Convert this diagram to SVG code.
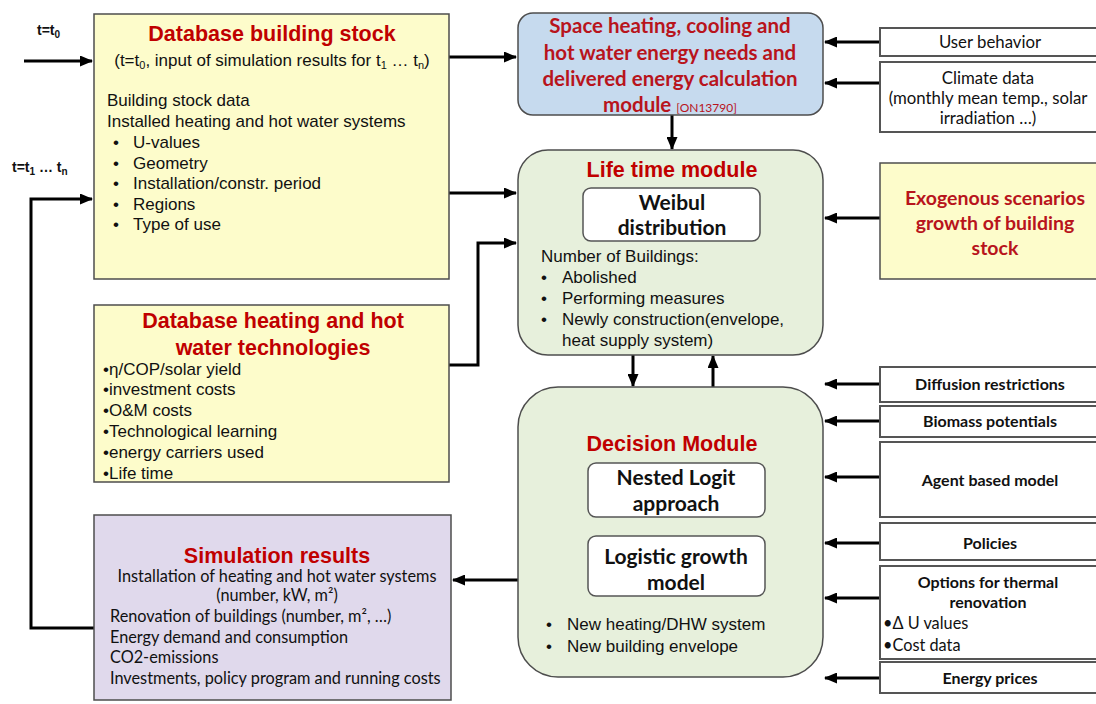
<svg xmlns="http://www.w3.org/2000/svg" width="1096" height="704" viewBox="0 0 1096 704">
<style>
.box{stroke:#4d4d4d;stroke-width:1.5}
.yel{fill:#fdfccb}
.blue{fill:#c6daee}
.green{fill:#e7f0dc}
.purple{fill:#e0d9ec}
.inbox{fill:#ffffff;stroke:#555;stroke-width:1.5}
.rbox{fill:#ffffff;stroke:#555;stroke-width:2}
.title{font-family:Arial,"Liberation Sans",sans-serif;font-weight:bold;fill:#c00000;font-size:21.5px}
.ctitle{font-family:Lato,"Open Sans",sans-serif;font-weight:bold;fill:#b8141c}
.arial{font-family:Arial,"Liberation Sans",sans-serif;fill:#111;font-size:17px}
.cal{font-family:Lato,"Open Sans",sans-serif;fill:#111;font-size:16.3px}
.calr{font-family:Lato,"Open Sans",sans-serif;fill:#111;font-size:16.8px}
.calb{font-family:Lato,"Open Sans",sans-serif;fill:#111;font-size:16px;font-weight:bold}
.inner{font-family:Lato,"Open Sans",sans-serif;fill:#111;font-size:21px;font-weight:bold}
.lbl{font-family:Arial,"Liberation Sans",sans-serif;font-weight:bold;font-size:14px;fill:#111}
.c{text-anchor:middle}
.conn{fill:none;stroke:#000;stroke-width:3}
</style>
<defs>
<marker id="ah" markerUnits="userSpaceOnUse" markerWidth="13" markerHeight="11" refX="12" refY="5.5" orient="auto">
<path d="M0,0 L13,5.5 L0,11 z" fill="#000"/>
</marker>
</defs>
<rect width="1096" height="704" fill="#ffffff"/>

<g id="connectors">
<line class="conn" x1="24" y1="61" x2="92" y2="61" marker-end="url(#ah)"/>
<polyline class="conn" points="94,628 31,628 31,199 92,199" marker-end="url(#ah)"/>
<line class="conn" x1="449" y1="57" x2="516" y2="57" marker-end="url(#ah)"/>
<line class="conn" x1="449" y1="193" x2="516" y2="193" marker-end="url(#ah)"/>
<polyline class="conn" points="449,365 478,365 478,243 516,243" marker-end="url(#ah)"/>
<line class="conn" x1="672" y1="115" x2="672" y2="149" marker-end="url(#ah)"/>
<line class="conn" x1="633" y1="355" x2="633" y2="386" marker-end="url(#ah)"/>
<line class="conn" x1="713" y1="387" x2="713" y2="356" marker-end="url(#ah)"/>
<line class="conn" x1="518" y1="580" x2="453" y2="580" marker-end="url(#ah)"/>
<line class="conn" x1="880" y1="42" x2="825" y2="42" marker-end="url(#ah)"/>
<line class="conn" x1="880" y1="83" x2="825" y2="83" marker-end="url(#ah)"/>
<line class="conn" x1="880" y1="218" x2="825" y2="218" marker-end="url(#ah)"/>
<line class="conn" x1="880" y1="384" x2="825" y2="384" marker-end="url(#ah)"/>
<line class="conn" x1="880" y1="421" x2="825" y2="421" marker-end="url(#ah)"/>
<line class="conn" x1="880" y1="477" x2="825" y2="477" marker-end="url(#ah)"/>
<line class="conn" x1="880" y1="543" x2="825" y2="543" marker-end="url(#ah)"/>
<line class="conn" x1="880" y1="598" x2="825" y2="598" marker-end="url(#ah)"/>
<line class="conn" x1="880" y1="678" x2="825" y2="678" marker-end="url(#ah)"/>
</g>

<g id="time-labels">
<text class="lbl" x="37" y="35">t=t<tspan font-size="10" dy="3">0</tspan></text>
<text class="lbl" x="12" y="172">t=t<tspan font-size="10" dy="3">1</tspan><tspan dy="-3"> … t</tspan><tspan font-size="10" dy="3">n</tspan></text>
</g>

<g id="db-building-stock">
<rect class="box yel" x="94" y="14" width="355" height="265"/>
<text class="title c" x="272" y="41">Database building stock</text>
<text class="arial c" x="272" y="66" font-size="16.8">(t=t<tspan font-size="11" dy="3">0</tspan><tspan dy="-3">, input of simulation results for t</tspan><tspan font-size="11" dy="3">1</tspan><tspan dy="-3"> … t</tspan><tspan font-size="11" dy="3">n</tspan><tspan dy="-3">)</tspan></text>
<text class="arial" x="107" y="106">Building stock data</text>
<text class="arial" x="107" y="127">Installed heating and hot water systems</text>
<text class="arial" x="113" y="148">•</text><text class="arial" x="133" y="148">U-values</text>
<text class="arial" x="113" y="169">•</text><text class="arial" x="133" y="169">Geometry</text>
<text class="arial" x="113" y="189">•</text><text class="arial" x="133" y="189">Installation/constr. period</text>
<text class="arial" x="113" y="210">•</text><text class="arial" x="133" y="210">Regions</text>
<text class="arial" x="113" y="230">•</text><text class="arial" x="133" y="230">Type of use</text>
</g>

<g id="db-heating-tech">
<rect class="box yel" x="94" y="305" width="355" height="177"/>
<text class="title c" x="273" y="328">Database heating and hot</text>
<text class="title c" x="273" y="355">water technologies</text>
<text class="arial" x="103" y="375">•η/COP/solar yield</text>
<text class="arial" x="103" y="395">•investment costs</text>
<text class="arial" x="103" y="416">•O&amp;M costs</text>
<text class="arial" x="103" y="437">•Technological learning</text>
<text class="arial" x="103" y="458">•energy carriers used</text>
<text class="arial" x="103" y="479">•Life time</text>
</g>

<g id="simulation-results">
<rect class="box purple" x="94" y="515" width="357" height="185"/>
<text class="title c" x="277" y="563">Simulation results</text>
<text class="cal c" x="277" y="582">Installation of heating and hot water systems</text>
<text class="cal c" x="277" y="601">(number, kW, m²)</text>
<text class="cal" x="110" y="622">Renovation of buildings (number, m², …)</text>
<text class="cal" x="110" y="643">Energy demand and consumption</text>
<text class="cal" x="110" y="663">CO2-emissions</text>
<text class="cal" x="110" y="684">Investments, policy program  and running  costs</text>
</g>

<g id="space-heating-module">
<rect class="box blue" x="518" y="13" width="305" height="102" rx="15"/>
<text class="ctitle c" x="670" y="33" font-size="20.5">Space heating, cooling and</text>
<text class="ctitle c" x="670" y="60" font-size="20.5">hot water energy needs and</text>
<text class="ctitle c" x="670" y="86" font-size="20.5">delivered energy calculation</text>
<text class="ctitle c" x="670" y="112" font-size="20.5">module <tspan font-size="12" font-weight="normal">[ON13790]</tspan></text>
</g>

<g id="life-time-module">
<rect class="box green" x="518" y="150" width="305" height="205" rx="30"/>
<text class="title c" x="672" y="177">Life time module</text>
<rect class="inbox" x="583" y="188" width="177" height="53" rx="8"/>
<text class="inner c" x="672" y="210">Weibul</text>
<text class="inner c" x="672" y="235">distribution</text>
<text class="arial" x="541" y="262">Number of Buildings:</text>
<text class="arial" x="541" y="283">•</text><text class="arial" x="562" y="283">Abolished</text>
<text class="arial" x="541" y="304">•</text><text class="arial" x="562" y="304">Performing measures</text>
<text class="arial" x="541" y="325">•</text><text class="arial" x="562" y="325">Newly construction(envelope,</text>
<text class="arial" x="562" y="346">heat supply system)</text>
</g>

<g id="decision-module">
<rect class="box green" x="518" y="387" width="305" height="290" rx="40"/>
<text class="title c" x="672" y="451">Decision Module</text>
<rect class="inbox" x="588" y="463" width="177" height="54" rx="8"/>
<text class="inner c" x="676" y="485">Nested Logit</text>
<text class="inner c" x="676" y="511">approach</text>
<rect class="inbox" x="588" y="536" width="177" height="60" rx="8"/>
<text class="inner c" x="676" y="564">Logistic growth</text>
<text class="inner c" x="676" y="590">model</text>
<text class="arial" x="546" y="630">•</text><text class="arial" x="567" y="630">New heating/DHW system</text>
<text class="arial" x="546" y="652">•</text><text class="arial" x="567" y="652">New building envelope</text>
</g>

<g id="user-behavior">
<rect class="rbox" x="880" y="28" width="220" height="28"/>
<text class="calr c" x="990" y="48">User behavior</text>
</g>

<g id="climate-data">
<rect class="rbox" x="880" y="62" width="220" height="70"/>
<text class="calr c" x="988" y="84">Climate data</text>
<text class="calr c" x="988" y="104">(monthly mean temp., solar</text>
<text class="calr c" x="988" y="124">irradiation …)</text>
</g>

<g id="exogenous-scenarios">
<rect class="box yel" x="880" y="163" width="220" height="116" stroke-width="2"/>
<text class="ctitle c" x="995" y="205" font-size="19.5">Exogenous scenarios</text>
<text class="ctitle c" x="995" y="230" font-size="19.5">growth of building</text>
<text class="ctitle c" x="995" y="255" font-size="19.5">stock</text>
</g>

<g id="diffusion-restrictions">
<rect class="rbox" x="880" y="367" width="220" height="35"/>
<text class="calb c" x="990" y="390">Diffusion restrictions</text>
</g>

<g id="biomass-potentials">
<rect class="rbox" x="880" y="406" width="220" height="31"/>
<text class="calb c" x="990" y="427">Biomass potentials</text>
</g>

<g id="agent-based-model">
<rect class="rbox" x="880" y="442" width="220" height="75"/>
<text class="calb c" x="990" y="486">Agent based model</text>
</g>

<g id="policies">
<rect class="rbox" x="880" y="523" width="220" height="37"/>
<text class="calb c" x="990" y="549">Policies</text>
</g>

<g id="thermal-renovation">
<rect class="rbox" x="880" y="566" width="220" height="93"/>
<text class="calb c" x="988" y="588">Options for thermal</text>
<text class="calb c" x="988" y="608">renovation</text>
<text class="cal" x="883" y="629" font-size="15.5">•Δ U values</text>
<text class="cal" x="883" y="651" font-size="15.5">•Cost data</text>
</g>

<g id="energy-prices">
<rect class="rbox" x="880" y="662" width="220" height="31"/>
<text class="calb c" x="990" y="684">Energy prices</text>
</g>
</svg>
